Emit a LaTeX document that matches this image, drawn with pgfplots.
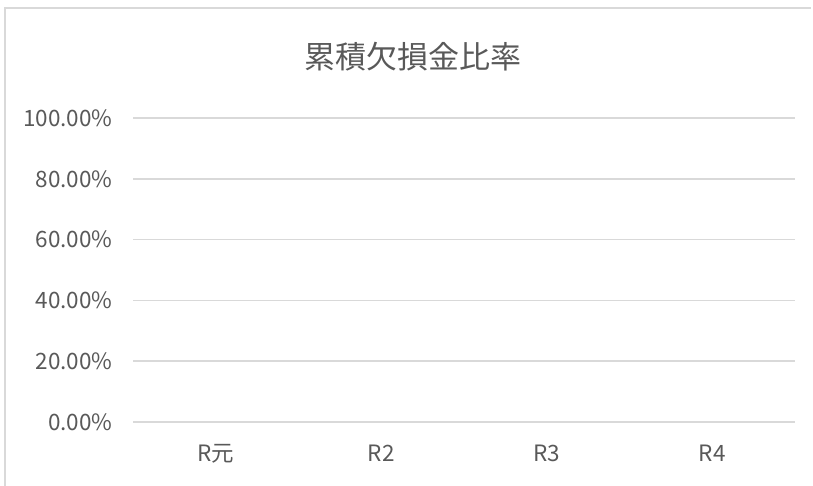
\documentclass[border=0pt]{standalone}
\usepackage{fontspec}
\setmainfont{Noto Sans CJK JP}
\usepackage{pgfplots}
\pgfplotsset{compat=1.18}
\definecolor{gridgray}{HTML}{D9D9D9}
\definecolor{textgray}{HTML}{595959}

\begin{document}
\begin{tikzpicture}[x=1pt,y=1pt]
% page area, 1pt per pixel of the reference
\useasboundingbox (0,0) rectangle (813,486);
\draw[gridgray, line width=1.5pt] (5,0) -- (5,478) -- (811,478);
\begin{axis}[
  at={(133pt,64pt)}, anchor=south west,
  scale only axis=true,
  width=662pt, height=304pt,
  xmin=-0.5, xmax=3.5,
  ymin=0, ymax=1,
  xtick={0,1,2,3},
  xticklabels={R元, R2, R3, R4},
  ytick={0,0.2,0.4,0.6,0.8,1},
  yticklabels={0.00\%,20.00\%,40.00\%,60.00\%,80.00\%,100.00\%},
  /pgf/number format/assume math mode=true,
  axis line style={draw=none},
  major tick style={draw=none},
  ymajorgrids=true,
  grid style={gridgray, line width=1.5pt},
  ticklabel style={text=textgray, font=\fontsize{22.5}{26}\selectfont},
  yticklabel style={xshift=-17pt},
  xticklabel style={yshift=-19pt},
]
\addplot[draw=none, mark=none] coordinates {(0,0) (1,0) (2,0) (3,0)};
\end{axis}
\node[text=textgray, font=\fontsize{31}{36}\selectfont] at (413,429) {累積欠損金比率};
\end{tikzpicture}
\end{document}
